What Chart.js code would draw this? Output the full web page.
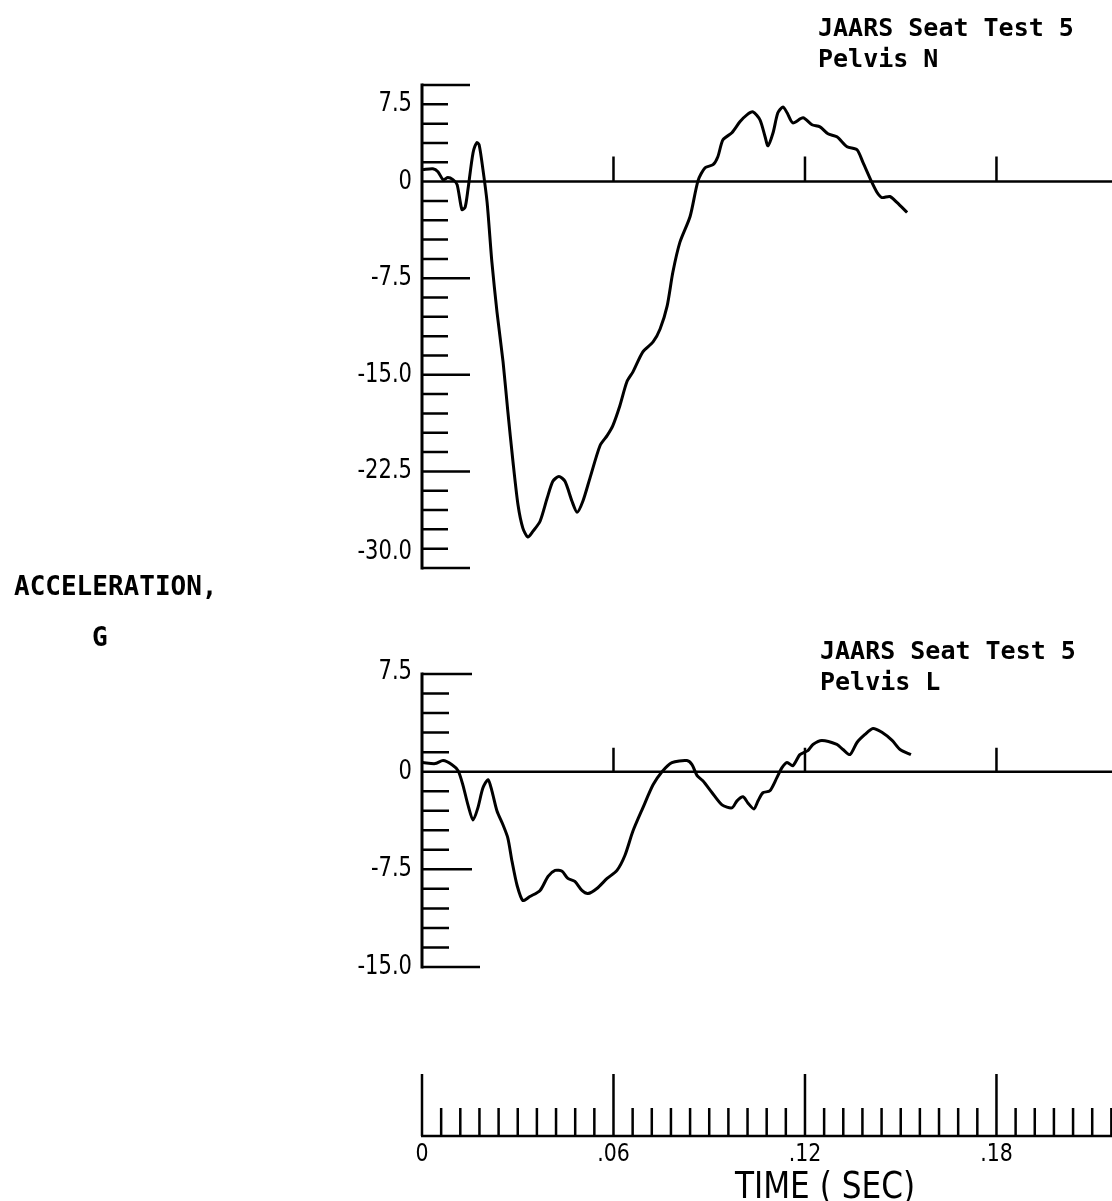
<!DOCTYPE html>
<html>
<head>
<meta charset="utf-8">
<script src="https://cdn.jsdelivr.net/npm/chart.js@4.4.1/dist/chart.umd.min.js"></script>
<style>
  html, body { margin: 0; padding: 0; background: #fff; }
  body { width: 1112px; height: 1201px; position: relative; overflow: hidden; }
  canvas { position: absolute; left: 0; }
  .t { position: absolute; color: #000; white-space: pre; font-family: "DejaVu Sans Mono", monospace; font-weight: bold; font-size: 25px; line-height: 31px; }
  .time { position: absolute; color: #000; white-space: pre; font-family: "DejaVu Sans", sans-serif; font-size: 38px; line-height: 38px; transform: translateX(-50%) scaleX(0.82); }
</style>
</head>
<body>
<canvas id="c1" width="1112" height="600" style="top:0"></canvas>
<canvas id="c2" width="1112" height="601" style="top:600px"></canvas>
<div class="t" style="left:818px; top:12px">JAARS Seat Test 5<br>Pelvis N</div>
<div class="t" style="left:820px; top:635px">JAARS Seat Test 5<br>Pelvis L</div>
<div class="t" style="left:14px; top:571px; font-size:26px">ACCELERATION,</div>
<div class="t" style="left:92px; top:622px; font-size:26px">G</div>
<div class="time" style="left:825px; top:1166px">TIME ( SEC)</div>
<script>
// ---- data ----
const topTime = [0.0003,0.0034,0.0050,0.0066,0.0081,0.0097,0.0110,0.0125,0.0135,0.0144,0.0160,0.0172,0.0179,0.0191,0.0204,0.0219,0.0235,0.0254,0.0269,0.0285,0.0301,0.0316,0.0332,0.0348,0.0370,0.0392,0.0410,0.0429,0.0448,0.0470,0.0486,0.0504,0.0526,0.0558,0.0580,0.0598,0.0620,0.0642,0.0661,0.0692,0.0724,0.0746,0.0768,0.0786,0.0808,0.0840,0.0865,0.0887,0.0912,0.0927,0.0943,0.0971,0.0996,0.1018,0.1037,0.1059,0.1075,0.1084,0.1100,0.1115,0.1131,0.1144,0.1162,0.1194,0.1222,0.1247,0.1272,0.1300,0.1332,0.1363,0.1382,0.1407,0.1426,0.1441,0.1466,0.1488,0.1520];
const topAccel = [0.93,1.00,0.77,0.15,0.31,0.15,-0.23,-2.17,-2.00,-0.62,2.24,3.02,2.86,0.93,-1.62,-6.26,-10.13,-14.00,-17.86,-21.73,-25.13,-26.90,-27.60,-27.14,-26.37,-24.59,-23.27,-22.89,-23.27,-24.82,-25.67,-24.82,-23.04,-20.49,-19.72,-18.94,-17.40,-15.54,-14.77,-13.22,-12.45,-11.44,-9.67,-7.04,-4.72,-2.71,0.08,1.08,1.31,1.93,3.25,3.79,4.64,5.18,5.41,4.79,3.48,2.78,3.79,5.34,5.80,5.34,4.56,4.95,4.41,4.25,3.71,3.48,2.71,2.47,1.47,0.08,-0.85,-1.24,-1.16,-1.62,-2.40];

const botTime = [0.0003,0.0041,0.0066,0.0094,0.0113,0.0128,0.0144,0.0160,0.0175,0.0191,0.0207,0.0219,0.0235,0.0254,0.0269,0.0282,0.0298,0.0316,0.0338,0.0370,0.0395,0.0417,0.0439,0.0457,0.0479,0.0501,0.0520,0.0548,0.0580,0.0611,0.0636,0.0661,0.0692,0.0724,0.0752,0.0783,0.0830,0.0846,0.0862,0.0880,0.0909,0.0940,0.0971,0.0987,0.1006,0.1021,0.1040,0.1053,0.1068,0.1090,0.1112,0.1128,0.1144,0.1162,0.1184,0.1209,0.1225,0.1253,0.1300,0.1319,0.1341,0.1363,0.1388,0.1413,0.1441,0.1473,0.1498,0.1532];
const botAccel = [0.70,0.62,0.85,0.54,0.08,-1.01,-2.55,-3.71,-2.78,-1.24,-0.62,-1.47,-3.02,-4.10,-5.10,-6.88,-8.74,-9.90,-9.59,-9.12,-8.04,-7.58,-7.65,-8.20,-8.43,-9.12,-9.36,-8.97,-8.20,-7.58,-6.42,-4.56,-2.78,-1.01,0.00,0.70,0.85,0.54,-0.31,-0.70,-1.62,-2.55,-2.78,-2.24,-1.93,-2.40,-2.86,-2.24,-1.62,-1.47,-0.46,0.31,0.70,0.46,1.31,1.62,2.09,2.40,2.09,1.70,1.31,2.24,2.86,3.32,3.02,2.40,1.70,1.31];

const topTickValues = [7.5, 0, -7.5, -15, -22.5, -30];
const topTickLabels = ["7.5", "0", "-7.5", "-15.0", "-22.5", "-30.0"];
const botTickValues = [7.5, 0, -7.5, -15];
const botTickLabels = ["7.5", "0", "-7.5", "-15.0"];
const timeTickValues = [0, 0.06, 0.12, 0.18];
const timeTickLabels = ["0", ".06", ".12", ".18"];
const timeMinorStep = 0.006;
const timeMax = 0.2162;

// ---- drawing helpers ----
const plotAxes = {
  id: 'plotAxes',
  beforeDatasetsDraw(chart, args, o) {
    const ctx = chart.ctx, a = chart.chartArea, xs = chart.scales.x, ys = chart.scales.y;
    ctx.save();
    ctx.strokeStyle = '#000'; ctx.fillStyle = '#000'; ctx.lineCap = 'butt';
    const x0 = xs.getPixelForValue(0);
    // vertical axis
    ctx.lineWidth = 3;
    ctx.beginPath();
    ctx.moveTo(x0, ys.getPixelForValue(ys.max) - 1.5);
    ctx.lineTo(x0, ys.getPixelForValue(ys.min) + 1.5);
    ctx.stroke();
    // inward ticks
    ctx.lineWidth = 2.5;
    const n = Math.round((ys.max - ys.min) / o.minorStep);
    ctx.beginPath();
    for (let i = 0; i <= n; i++) {
      const v = ys.max - i * o.minorStep;
      const py = ys.getPixelForValue(v);
      const major = o.values.some(m => Math.abs(m - v) < 1e-6);
      let len = major ? o.majorLen : o.minorLen;
      if (i === n && o.lastLen) len = o.lastLen;
      if (Math.abs(v) < 1e-6) continue;
      ctx.moveTo(x0, py); ctx.lineTo(x0 + len, py);
    }
    ctx.stroke();
    // zero line with upward time marks
    const pz = ys.getPixelForValue(0);
    ctx.beginPath();
    ctx.moveTo(x0, pz); ctx.lineTo(a.right, pz);
    ctx.stroke();
    ctx.beginPath();
    for (const t of o.marks) {
      const px = xs.getPixelForValue(t);
      ctx.moveTo(px, pz); ctx.lineTo(px, pz - o.markLen);
    }
    ctx.stroke();
    // tick labels
    ctx.font = '27px "DejaVu Sans"';
    ctx.textAlign = 'right'; ctx.textBaseline = 'middle';
    o.values.forEach((v, i) => {
      const py = ys.getPixelForValue(v) + (o.labelShift[i] || 0);
      ctx.save();
      ctx.translate(x0 - 10, py);
      ctx.scale(0.78, 1);
      ctx.fillText(o.labels[i], 0, 0);
      ctx.restore();
    });
    // optional time ruler
    if (o.ruler) {
      const ry = o.ruler.y;
      ctx.lineWidth = 2.5;
      ctx.beginPath();
      ctx.moveTo(x0 - 1, ry); ctx.lineTo(a.right, ry);
      const steps = Math.floor(xs.max / timeMinorStep + 1e-6);
      for (let i = 0; i <= steps; i++) {
        const px = xs.getPixelForValue(i * timeMinorStep);
        const len = (i % 10 === 0) ? o.ruler.majorLen : o.ruler.minorLen;
        ctx.moveTo(px, ry); ctx.lineTo(px, ry - len);
      }
      ctx.stroke();
      ctx.font = '25px "DejaVu Sans"';
      ctx.textAlign = 'center'; ctx.textBaseline = 'middle';
      timeTickValues.forEach((t, i) => {
        ctx.save();
        ctx.translate(xs.getPixelForValue(t), ry + o.ruler.labelGap);
        ctx.scale(0.82, 1);
        ctx.fillText(timeTickLabels[i], 0, 0);
        ctx.restore();
      });
    }
    ctx.restore();
  }
};

function makeChart(id, times, accel, ymin, ymax, pad, axOpts) {
  return new Chart(document.getElementById(id), {
    type: 'line',
    data: {
      datasets: [{
        data: times.map((t, i) => ({ x: t, y: accel[i] })),
        borderColor: '#000',
        borderWidth: 3,
        pointRadius: 0,
        tension: 0.25,
        fill: false
      }]
    },
    options: {
      responsive: false,
      animation: false,
      devicePixelRatio: 1,
      events: [],
      layout: { padding: pad },
      plugins: { legend: { display: false }, tooltip: { enabled: false }, plotAxes: axOpts },
      scales: {
        x: { type: 'linear', min: 0, max: timeMax, display: false },
        y: { type: 'linear', min: ymin, max: ymax, display: false }
      }
    },
    plugins: [plotAxes]
  });
}

makeChart('c1', topTime, topAccel, -30, 7.5,
  { left: 422, right: 0, top: 85, bottom: 32 },
  { values: topTickValues, labels: topTickLabels, minorStep: 1.5, majorLen: 48, minorLen: 26,
    marks: [0.06, 0.12, 0.18], markLen: 25, labelShift: [19, 0, 0, 0, 0, -16] });

makeChart('c2', botTime, botAccel, -15, 7.5,
  { left: 422, right: 0, top: 74, bottom: 234 },
  { values: botTickValues, labels: botTickLabels, minorStep: 1.5, majorLen: 50, minorLen: 27, lastLen: 58,
    marks: [0.06, 0.12, 0.18], markLen: 24, labelShift: [-2, 0, 0, 0],
    ruler: { y: 536, majorLen: 62, minorLen: 28, labelGap: 18 } });
</script>
</body>
</html>
